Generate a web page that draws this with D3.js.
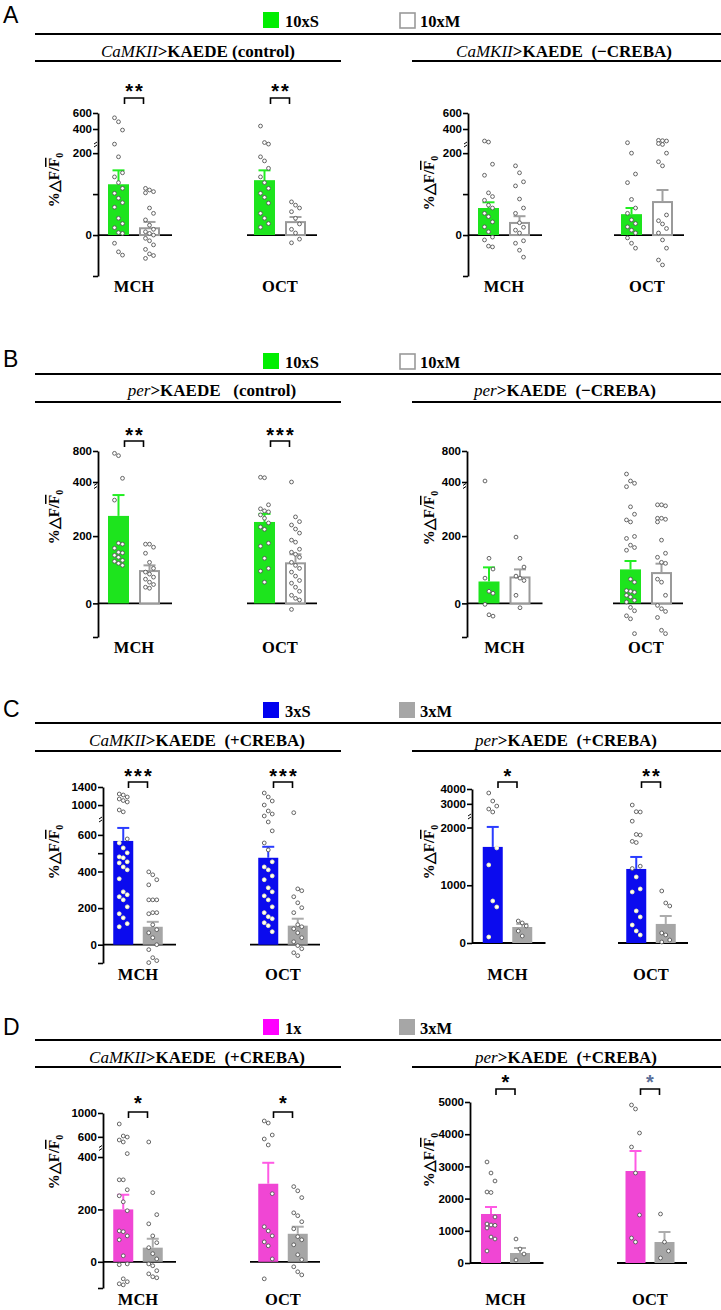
<!DOCTYPE html>
<html><head><meta charset="utf-8">
<script src="https://cdn.jsdelivr.net/npm/d3@7"></script>
<style>body{margin:0;background:#fff}</style>
</head><body>
<script>
// ---------------- DATA ----------------
const categories = ["MCH", "OCT"];
const seriesKeys = ["S", "M"];
const panelLetters = ["A", "B", "C", "D"];
const legendS = ["10xS", "10xS", "3xS", "1x"];
const legendM = ["10xM", "10xM", "3xM", "3xM"];

// subtitles: [italic gene, rest]
const subLeft = [["CaMKII", ">KAEDE (control)"], ["per", ">KAEDE\u00a0\u00a0\u00a0(control)"], ["CaMKII", ">KAEDE\u00a0\u00a0(+CREBA)"], ["CaMKII", ">KAEDE\u00a0\u00a0(+CREBA)"]];
const subRight = [["CaMKII", ">KAEDE\u00a0\u00a0(\u2212CREBA)"], ["per", ">KAEDE\u00a0\u00a0(\u2212CREBA)"], ["per", ">KAEDE\u00a0\u00a0(+CREBA)"], ["per", ">KAEDE\u00a0\u00a0(+CREBA)"]];

// tick labels
const ticksAB_A = [0, 200, 400, 600];
const ticksAB_B = [0, 200, 400, 800];
const ticksCL = [0, 200, 400, 600, 1000, 1400];
const ticksCR = [0, 1000, 2000, 3000, 4000];
const ticksDL = [0, 200, 400, 600, 1000];
const ticksDR = [0, 1000, 2000, 3000, 4000, 5000];

// Panel A left : CaMKII control
const aL_mean_S = [124, 134], aL_sem_S = [34, 24];
const aL_mean_M = [19, 34], aL_sem_M = [13, 10];
const aL_pts_S_MCH = [540, 490, 387, 232, 191, 152, 142, 128, 114, 102, 90, 79, 68, 41, 28, 18, 6, 4, -20, -41, -49];
const aL_pts_M_MCH = [114, 110, 106, 103, 66, 53, 37, 24, 14, 8, 4, 0, -8, -14, -24, -35, -46, -50, -57];
const aL_pts_S_OCT = [437, 241, 232, 191, 181, 163, 142, 128, 114, 102, 92, 78, 53, 41, 28, 19];
const aL_pts_M_OCT = [81, 73, 66, 57, 41, 27, 14, 5, -10, -19];
const aL_stars = ["**", "**"];

// Panel A right : CaMKII -CREBA
const aR_mean_S = [66, 51], aR_sem_S = [14, 15];
const aR_mean_M = [32, 83], aR_sem_M = [14, 27];
const aR_pts_S_MCH = [250, 244, 173, 146, 103, 94, 85, 73, 66, 53, 45, 32, 20, 8, -5, -12, -27, -29];
const aR_pts_M_MCH = [169, 152, 130, 120, 88, 66, 53, 30, 19, 12, 5, -14, -20, -37, -54];
const aR_pts_S_OCT = [240, 200, 149, 128, 87, 66, 53, 37, 28, 20, 12, 5, -7, -20, -32];
const aR_pts_M_OCT = [258, 254, 250, 235, 230, 200, 179, 169, 49, 35, 27, 16, 5, -12, -32, -61, -73];
const aR_stars = ["", ""];

// Panel B left : per control
const bL_mean_S = [260, 242], bL_sem_S = [62, 24];
const bL_mean_M = [99, 122], bL_sem_M = [14, 24];
const bL_pts_S_MCH = [770, 740, 448, 307, 179, 176, 164, 152, 150, 143, 137, 128, 125, 119, 113];
const bL_pts_M_MCH = [176, 176, 167, 149, 122, 104, 93, 87, 78, 72, 63, 56, 48, 45];
const bL_pts_S_OCT = [461, 455, 293, 281, 275, 272, 263, 253, 239, 227, 220, 179, 170, 134, 104, 96, 63];
const bL_pts_M_OCT = [400, 257, 243, 233, 221, 209, 188, 182, 161, 152, 146, 137, 122, 113, 104, 93, 81, 68, 60, 48, 36, 24, 15, 10, -18];
const bL_stars = ["**", "***"];

// Panel B right : per -CREBA
const bR_mean_S = [65, 101], bR_sem_S = [42, 25];
const bR_mean_M = [80, 93], bR_sem_M = [21, 25];
const bR_pts_S_MCH = [413, 134, 102, 75, 36, 30, -3, -34, -38];
const bR_pts_M_MCH = [197, 134, 108, 81, 75, 68, 24, -13];
const bR_pts_S_OCT = [503, 413, 389, 360, 287, 265, 248, 242, 199, 193, 173, 166, 158, 72, 63, 38, 36, 33, 24, 19, 9, 4, -12, -22, -37, -46, -90];
const bR_pts_M_OCT = [293, 293, 290, 253, 253, 250, 242, 188, 149, 137, 122, 119, 72, 63, 24, -6, -16, -24, -42, -80, -90];
const bR_stars = ["", ""];

// Panel C left : CaMKII +CREBA
const cL_mean_S = [567, 475], cL_sem_S = [71, 60];
const cL_mean_M = [98, 104], cL_sem_M = [27, 38];
const cL_pts_S_MCH = [1245, 1223, 1179, 1134, 1100, 1068, 891, 850, 578, 556, 529, 502, 480, 475, 453, 447, 425, 409, 360, 289, 273, 262, 245, 207, 169, 147, 115, 98];
const cL_pts_M_MCH = [398, 382, 355, 327, 245, 245, 245, 175, 175, 169, 109, 82, 65, 38, 0, -27, -71, -87, -98];
const cL_pts_S_OCT = [1267, 1179, 1090, 1001, 869, 802, 766, 680, 622, 556, 518, 453, 425, 409, 376, 355, 311, 289, 267, 245, 207, 175, 153, 142, 120, 104, 71];
const cL_pts_M_OCT = [831, 305, 295, 262, 229, 202, 175, 109, 98, 87, 65, 38, 16, -5, -22, -44, -60];
const cL_stars = ["***", "***"];

// Panel C right : per +CREBA
const cR_mean_S = [1664, 1282], cR_sem_S = [346, 208];
const cR_mean_M = [277, 330], cR_sem_M = [53, 138];
const cR_pts_S_MCH = [3730, 3190, 2850, 2650, 2450, 1646, 1352, 728, 624, 104];
const cR_pts_M_MCH = [381, 347, 295, 208, 121];
const cR_pts_S_OCT = [2920, 2470, 2450, 2110, 1880, 1870, 1760, 1740, 1330, 1290, 1144, 936, 884, 555, 451, 312, 208, 139];
const cR_pts_M_OCT = [901, 693, 641, 173, 139, 52, 17];
const cR_stars = ["*", "**"];

// Panel D left : CaMKII +CREBA (1x)
const dL_mean_S = [200, 298], dL_sem_S = [56, 80];
const dL_mean_M = [54, 107], dL_sem_M = [34, 27];
const dL_pts_S_MCH = [816, 614, 597, 547, 514, 413, 313, 313, 275, 252, 229, 195, 118, 115, 99, 84, 23, -8, -11, -65, -76, -84, -88];
const dL_pts_M_MCH = [514, 264, 180, 145, 99, 73, 54, 31, 11, -8, -15, -34, -46, -57, -61];
const dL_pts_S_OCT = [866, 832, 631, 564, 472, 260, 134, 118, 99, 76, 61, 11, -65];
const dL_pts_M_OCT = [287, 271, 245, 187, 176, 153, 126, 96, 84, 65, 27, 8, -19, -38, -50];
const dL_stars = ["*", "*"];

// Panel D right : per +CREBA (1x)
const dR_mean_S = [1522, 2857], dR_sem_S = [217, 621];
const dR_mean_M = [311, 652], dR_sem_M = [155, 311];
const dR_pts_S_MCH = [3137, 2795, 2547, 2205, 2190, 1429, 1211, 1180, 1170, 1087, 807, 745, 373];
const dR_pts_M_MCH = [745, 435, 280, 93];
const dR_pts_S_OCT = [4907, 4783, 4037, 3602, 2795, 1491, 776, 652];
const dR_pts_M_OCT = [1522, 652, 373, 155];
const dR_stars = ["*", "*"];

// ---------------- STYLE / LAYOUT ----------------
const W = 721, H = 1310;
const SERIF = "'Liberation Serif','Times New Roman',serif";
const SANS = "'Liberation Sans',Arial,sans-serif";
const styleS = [
  {fill: "#1de41d", err: "#22ee22", legend: "#00ee00", stroke: "none", dot: "#555"},
  {fill: "#1de41d", err: "#22ee22", legend: "#00ee00", stroke: "none", dot: "#555"},
  {fill: "#0b0bee", err: "#2a3cff", legend: "#0000f0", stroke: "none", dot: "#f4f4b0"},
  {fill: "#f046d4", err: "#ff5ae4", legend: "#ff00ff", stroke: "none", dot: "#555"}
];
const styleM = [
  {fill: "#fff", err: "#a0a0a0", legend: "#fff", stroke: "#9a9a9a", dot: "#555"},
  {fill: "#fff", err: "#a0a0a0", legend: "#fff", stroke: "#9a9a9a", dot: "#555"},
  {fill: "#a6a6a6", err: "#acacac", legend: "#a6a6a6", stroke: "none", dot: "#555"},
  {fill: "#a6a6a6", err: "#acacac", legend: "#a6a6a6", stroke: "none", dot: "#555"}
];
const panelY = [
  {letter: 23, legTop: 12, legBase: 27, top: 34, sub: 57, under: 61},
  {letter: 367, legTop: 353, legBase: 368, top: 374, sub: 396, under: 402},
  {letter: 717, legTop: 702, legBase: 717, top: 723, sub: 746, under: 751},
  {letter: 1035, legTop: 1019, legBase: 1034, top: 1040, sub: 1063, under: 1067}
];
const subCenters = [[198, 564], [212, 565], [197, 566], [197, 566]];

const charts = [
  {panel: 0, axisX: 98, yDomain: [-100, 215, 250, 600], yRange: [276, 147, 141, 113], ticks: ticksAB_A, minor: [-100, 100],
   groupX: [134, 280], barW: 21, step: 31, starY: 87, bracketY: 98, xLabY: 292, yLab: [59, 180],
   mean: {S: aL_mean_S, M: aL_mean_M}, sem: {S: aL_sem_S, M: aL_sem_M},
   pts: {S: [aL_pts_S_MCH, aL_pts_S_OCT], M: [aL_pts_M_MCH, aL_pts_M_OCT]}, stars: aL_stars},
  {panel: 0, axisX: 468, yDomain: [-100, 215, 250, 600], yRange: [276, 147, 141, 113], ticks: ticksAB_A, minor: [-100, 100],
   groupX: [504, 647], barW: 21, step: 31, starY: 87, bracketY: 98, xLabY: 292, yLab: [434, 183],
   mean: {S: aR_mean_S, M: aR_mean_M}, sem: {S: aR_sem_S, M: aR_sem_M},
   pts: {S: [aR_pts_S_MCH, aR_pts_S_OCT], M: [aR_pts_M_MCH, aR_pts_M_OCT]}, stars: aR_stars},
  {panel: 1, axisX: 98, yDomain: [-100, 340, 400, 800], yRange: [637, 489, 482, 451], ticks: ticksAB_B, minor: [-100],
   groupX: [134, 280], barW: 21, step: 31, starY: 431, bracketY: 441, xLabY: 653, yLab: [59, 517],
   mean: {S: bL_mean_S, M: bL_mean_M}, sem: {S: bL_sem_S, M: bL_sem_M},
   pts: {S: [bL_pts_S_MCH, bL_pts_S_OCT], M: [bL_pts_M_MCH, bL_pts_M_OCT]}, stars: bL_stars},
  {panel: 1, axisX: 467, yDomain: [-100, 340, 400, 800], yRange: [637, 489, 482, 451], ticks: ticksAB_B, minor: [-100],
   groupX: [504.5, 646], barW: 21, step: 31, starY: 431, bracketY: 441, xLabY: 653, yLab: [434, 518],
   mean: {S: bR_mean_S, M: bR_mean_M}, sem: {S: bR_sem_S, M: bR_sem_M},
   pts: {S: [bR_pts_S_MCH, bR_pts_S_OCT], M: [bR_pts_M_MCH, bR_pts_M_OCT]}, stars: bR_stars},
  {panel: 2, axisX: 103, yDomain: [-100, 665, 780, 1400], yRange: [963, 823, 815, 787], ticks: ticksCL, minor: [-100, 500],
   groupX: [138, 283], barW: 20, step: 29.5, starY: 772, bracketY: 782, xLabY: 980, yLab: [59, 852],
   mean: {S: cL_mean_S, M: cL_mean_M}, sem: {S: cL_sem_S, M: cL_sem_M},
   pts: {S: [cL_pts_S_MCH, cL_pts_S_OCT], M: [cL_pts_M_MCH, cL_pts_M_OCT]}, stars: cL_stars},
  {panel: 2, axisX: 472, yDomain: [0, 2130, 2450, 4000], yRange: [943, 820, 812, 789], ticks: ticksCR, minor: [],
   groupX: [507.5, 651], barW: 20, step: 29.5, starY: 772, bracketY: 782, xLabY: 980, yLab: [434, 852],
   mean: {S: cR_mean_S, M: cR_mean_M}, sem: {S: cR_sem_S, M: cR_sem_M},
   pts: {S: [cR_pts_S_MCH, cR_pts_S_OCT], M: [cR_pts_M_MCH, cR_pts_M_OCT]}, stars: cR_stars},
  {panel: 3, axisX: 103, yDomain: [-100, 423, 480, 1000], yRange: [1288, 1151, 1144, 1113], ticks: ticksDL, minor: [-100],
   groupX: [138, 283], barW: 20, step: 29.5, starY: 1099, bracketY: 1112, xLabY: 1305, yLab: [59, 1162],
   mean: {S: dL_mean_S, M: dL_mean_M}, sem: {S: dL_sem_S, M: dL_sem_M},
   pts: {S: [dL_pts_S_MCH, dL_pts_S_OCT], M: [dL_pts_M_MCH, dL_pts_M_OCT]}, stars: dL_stars},
  {panel: 3, axisX: 470, yDomain: [0, 5000], yRange: [1263, 1102], ticks: ticksDR, minor: [],
   groupX: [505.5, 650], barW: 20, step: 29, starY: 1078, bracketY: 1089, xLabY: 1305, yLab: [434, 1160],
   mean: {S: dR_mean_S, M: dR_mean_M}, sem: {S: dR_sem_S, M: dR_sem_M},
   pts: {S: [dR_pts_S_MCH, dR_pts_S_OCT], M: [dR_pts_M_MCH, dR_pts_M_OCT]}, stars: dR_stars, starColors: ["#000", "#5a6f99"]}
];

// ---------------- DRAW ----------------
const svg = d3.select("body").append("svg").attr("width", W).attr("height", H).style("display", "block");
svg.append("rect").attr("width", W).attr("height", H).attr("fill", "#fff");

// panel headers
panelLetters.forEach((L, i) => {
  const p = panelY[i];
  svg.append("text").attr("x", 3).attr("y", p.letter).attr("font-family", SANS).attr("font-size", 23).text(L);
  // legend
  svg.append("rect").attr("x", 263).attr("y", p.legTop).attr("width", 16).attr("height", 16)
    .attr("fill", styleS[i].legend);
  svg.append("text").attr("x", 285).attr("y", p.legBase).attr("font-family", SERIF).attr("font-weight", "bold")
    .attr("font-size", 16.5).text(legendS[i]);
  svg.append("rect").attr("x", i < 2 ? 400 : 399).attr("y", p.legTop + (i < 2 ? 1 : 0))
    .attr("width", i < 2 ? 15 : 16).attr("height", i < 2 ? 15 : 16)
    .attr("fill", styleM[i].legend).attr("stroke", i < 2 ? "#9a9a9a" : "none").attr("stroke-width", 1.6);
  svg.append("text").attr("x", 420).attr("y", p.legBase).attr("font-family", SERIF).attr("font-weight", "bold")
    .attr("font-size", 16.5).text(legendM[i]);
  // top line
  svg.append("line").attr("x1", 35).attr("x2", 721).attr("y1", p.top).attr("y2", p.top).attr("stroke", "#000").attr("stroke-width", 2.2);
  // subtitles
  [subLeft[i], subRight[i]].forEach((s, k) => {
    const t = svg.append("text").attr("x", subCenters[i][k]).attr("y", p.sub).attr("text-anchor", "middle")
      .attr("font-family", SERIF).attr("font-size", 17);
    t.append("tspan").attr("font-style", "italic").text(s[0]);
    t.append("tspan").attr("font-weight", "bold").text(s[1]);
  });
  svg.append("line").attr("x1", 35).attr("x2", 341).attr("y1", p.under).attr("y2", p.under).attr("stroke", "#000").attr("stroke-width", 2.2);
  svg.append("line").attr("x1", 412).attr("x2", 721).attr("y1", p.under).attr("y2", p.under).attr("stroke", "#000").attr("stroke-width", 2.2);
});

function yLabel(x, yc) {
  const t = svg.append("text").attr("transform", `translate(${x},${yc}) rotate(-90)`).attr("text-anchor", "middle")
    .attr("font-family", SERIF).attr("font-weight", "bold").attr("font-size", 15);
  t.append("tspan").text("%\u25B3F/");
  t.append("tspan").style("text-decoration", "overline").text("F");
  t.append("tspan").attr("font-size", 10).attr("dy", 4).text("0");
}

const dotOffsets = [-4, 0, 4];

charts.forEach(c => {
  const g = svg.append("g");
  const sS = styleS[c.panel], sM = styleM[c.panel];
  const st = {S: sS, M: sM};
  const y = d3.scaleLinear().domain(c.yDomain).range(c.yRange);
  const xg = d3.scalePoint().domain(categories).range(c.groupX);
  const half = c.step / 2 + c.barW / 2;
  const xs = d3.scaleBand().domain(seriesKeys).range([-half, half]).paddingInner((c.step - c.barW) / c.step);

  // axis
  const axis = d3.axisLeft(y).tickValues(c.ticks.concat(c.minor)).tickSize(5).tickSizeOuter(0)
    .tickFormat(d => c.ticks.includes(d) ? d : "");
  const ag = g.append("g").attr("transform", `translate(${c.axisX},0)`).call(axis);
  ag.select(".domain").attr("stroke", "#000").attr("stroke-width", 1.8);
  ag.selectAll(".tick line").attr("stroke", "#000").attr("stroke-width", 1.6);
  ag.selectAll(".tick text").attr("font-family", SANS).attr("font-weight", "bold").attr("font-size", 11.5)
    .attr("fill", "#000").attr("x", -6);

  // axis break mark
  if (c.yDomain.length === 4) {
    const yb = (y(c.yDomain[1]) + y(c.yDomain[2])) / 2;
    g.append("path").attr("d", `M${c.axisX - 4},${yb + 3} l3,-2 M${c.axisX - 4},${yb} l3,-2`)
      .attr("stroke", "#000").attr("stroke-width", 1).attr("fill", "none");
  }

  // baselines
  const y0 = y(0);
  g.append("line").attr("x1", c.axisX).attr("x2", xg("MCH") + 38).attr("y1", y0).attr("y2", y0)
    .attr("stroke", "#000").attr("stroke-width", 1.8);
  g.append("line").attr("x1", xg("OCT") - 33).attr("x2", xg("OCT") + 37).attr("y1", y0).attr("y2", y0)
    .attr("stroke", "#000").attr("stroke-width", 1.8);

  // bars
  seriesKeys.forEach(s => {
    categories.forEach((cat, ci) => {
      const m = c.mean[s][ci], e = c.sem[s][ci];
      const x0 = xg(cat) + xs(s), bw = xs.bandwidth(), cx = x0 + bw / 2;
      const hasStroke = st[s].stroke !== "none";
      g.append("rect").attr("x", x0 + (hasStroke ? 1 : 0)).attr("y", y(m) + (hasStroke ? 1 : 0))
        .attr("width", bw - (hasStroke ? 2 : 0)).attr("height", y0 - y(m) - (hasStroke ? 1 : 0))
        .attr("fill", st[s].fill).attr("stroke", st[s].stroke).attr("stroke-width", 2);
      g.append("line").attr("x1", cx).attr("x2", cx).attr("y1", y(m)).attr("y2", y(m + e))
        .attr("stroke", st[s].err).attr("stroke-width", 2);
      g.append("line").attr("x1", cx - 6).attr("x2", cx + 6).attr("y1", y(m + e)).attr("y2", y(m + e))
        .attr("stroke", st[s].err).attr("stroke-width", 2);
    });
  });

  // dots
  seriesKeys.forEach(s => {
    categories.forEach((cat, ci) => {
      const pts = c.pts[s][ci];
      const cx = xg(cat) + xs(s) + xs.bandwidth() / 2;
      const m = c.mean[s][ci];
      g.selectAll(null).data(pts).enter().append("circle")
        .attr("cx", (d, i) => cx + dotOffsets[i % 3])
        .attr("cy", d => y(d))
        .attr("r", 1.9)
        .attr("fill", "#fff")
        .attr("stroke", d => (d < m && d > 0) ? st[s].dot : "#555")
        .attr("stroke-width", 0.9);
    });
  });

  // significance
  categories.forEach((cat, ci) => {
    const s = c.stars[ci];
    if (!s) return;
    const cx = xg(cat);
    const col = c.starColors ? c.starColors[ci] : "#000";
    g.append("text").attr("x", cx + 1).attr("y", c.starY + 11).attr("text-anchor", "middle")
      .attr("font-family", SANS).attr("font-weight", "bold").attr("font-size", 20).attr("letter-spacing", 2)
      .attr("fill", col).text(s);
    g.append("path").attr("d", `M${cx - 9.5},${c.bracketY + 6} V${c.bracketY} H${cx + 9.5} V${c.bracketY + 6}`)
      .attr("fill", "none").attr("stroke", "#000").attr("stroke-width", 1.6);
  });

  // x labels
  categories.forEach(cat => {
    g.append("text").attr("x", xg(cat)).attr("y", c.xLabY).attr("text-anchor", "middle")
      .attr("font-family", SERIF).attr("font-weight", "bold").attr("font-size", 16.5).text(cat);
  });

  yLabel(c.yLab[0], c.yLab[1]);
});
</script>
</body></html>
